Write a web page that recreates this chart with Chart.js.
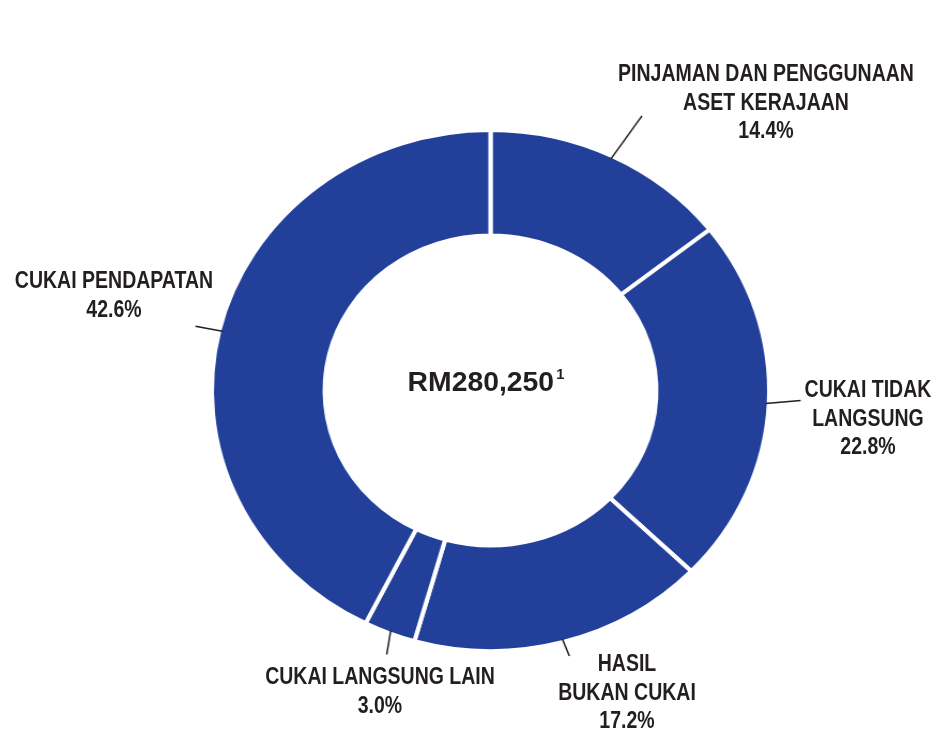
<!DOCTYPE html>
<html>
<head>
<meta charset="utf-8">
<script src="https://cdn.jsdelivr.net/npm/chart.js@4"></script>
<style>
  html, body { margin: 0; padding: 0; background: #fff; }
  body { width: 934px; height: 733px; position: relative; overflow: hidden; }
  #ring {
    position: absolute; left: 187.5px; top: 87.5px; width: 605px; height: 605px;
    transform: scaleX(1.07); transform-origin: 302.5px 302.5px;
  }
  .lbl {
    position: absolute; transform: translateX(-50%) scaleX(0.83); white-space: nowrap; text-align: center;
    font-family: "Liberation Sans", Arial, sans-serif;
    font-weight: bold; font-size: 23.5px; line-height: 28.5px; color: #231f20;
  }
  #total {
    position: absolute; left: 486px; top: 384px; white-space: nowrap;
    transform: translate(-50%, -50%) scaleX(1.05);
    font-family: "Liberation Sans", Arial, sans-serif; font-weight: 700; font-size: 27px; line-height: 27px;
    color: #231f20;
  }
  #total span { font-size: 14px; position: relative; top: -12px; margin-left: 2px; }
</style>
</head>
<body>
<div id="ring"><canvas id="donut" width="605" height="605"></canvas></div>
<div id="total"></div>
<div id="labels"></div>
<script>
// ---------- Data ----------
const CATEGORIES = ['PINJAMAN DAN PENGGUNAAN ASET KERAJAAN', 'CUKAI TIDAK LANGSUNG', 'HASIL BUKAN CUKAI', 'CUKAI LANGSUNG LAIN', 'CUKAI PENDAPATAN'];
const LABEL_LINES = [['PINJAMAN DAN PENGGUNAAN', 'ASET KERAJAAN'], ['CUKAI TIDAK', 'LANGSUNG'], ['HASIL', 'BUKAN CUKAI'], ['CUKAI LANGSUNG LAIN'], ['CUKAI PENDAPATAN']];
const SHARES = [14.4, 22.8, 17.2, 3.0, 42.6];
const TOTAL = 'RM280,250';
const TOTAL_NOTE = '1';

// ---------- Layout ----------
const SX = 1.07;               // horizontal stretch of the ring
const BLUE = '#22409a';
const INK = '#231f20';
// label block position: centre x, top (page px)
const LABEL_POS = [[766, 59], [868, 375], [627, 649], [380, 662], [114, 266]];
// leader line offset from the arc edge (page px)
const LEADERS = [[31, -43], [35, -3], [7, 17], [-4, 24], [-27, -5]];

const $ = (s) => document.querySelector(s);

$('#total').innerHTML = `${TOTAL}<span>${TOTAL_NOTE}</span>`;
$('#labels').innerHTML = CATEGORIES.map((c, i) => `
  <div class="lbl" style="left:${LABEL_POS[i][0]}px;top:${LABEL_POS[i][1]}px">
    ${LABEL_LINES[i].join('<br>')}<br>${SHARES[i].toFixed(1)}%
  </div>`).join('');

const leaderLines = {
  id: 'leaderLines',
  afterDatasetsDraw(chart) {
    const { ctx } = chart;
    const arcs = chart.getDatasetMeta(0).data;
    ctx.save();
    ctx.strokeStyle = INK;
    ctx.lineWidth = 1.5;
    arcs.forEach((a, i) => {
      const mid = (a.startAngle + a.endAngle) / 2;
      const r = a.outerRadius - 3;
      const x0 = a.x + Math.cos(mid) * r;
      const y0 = a.y + Math.sin(mid) * r;
      ctx.beginPath();
      ctx.moveTo(x0, y0);
      ctx.lineTo(x0 + LEADERS[i][0] / SX, y0 + LEADERS[i][1]);
      ctx.stroke();
    });
    ctx.restore();
  },
};

new Chart($('#donut').getContext('2d'), {
  type: 'doughnut',
  data: {
    labels: CATEGORIES,
    datasets: [{ data: SHARES, backgroundColor: BLUE, borderColor: '#fff', borderWidth: 4 }],
  },
  options: {
    responsive: false, animation: false, cutout: '59.5%',
    layout: { padding: 40 },
    plugins: { legend: { display: false }, tooltip: { enabled: false } },
  },
  plugins: [leaderLines],
});
</script>
</body>
</html>
